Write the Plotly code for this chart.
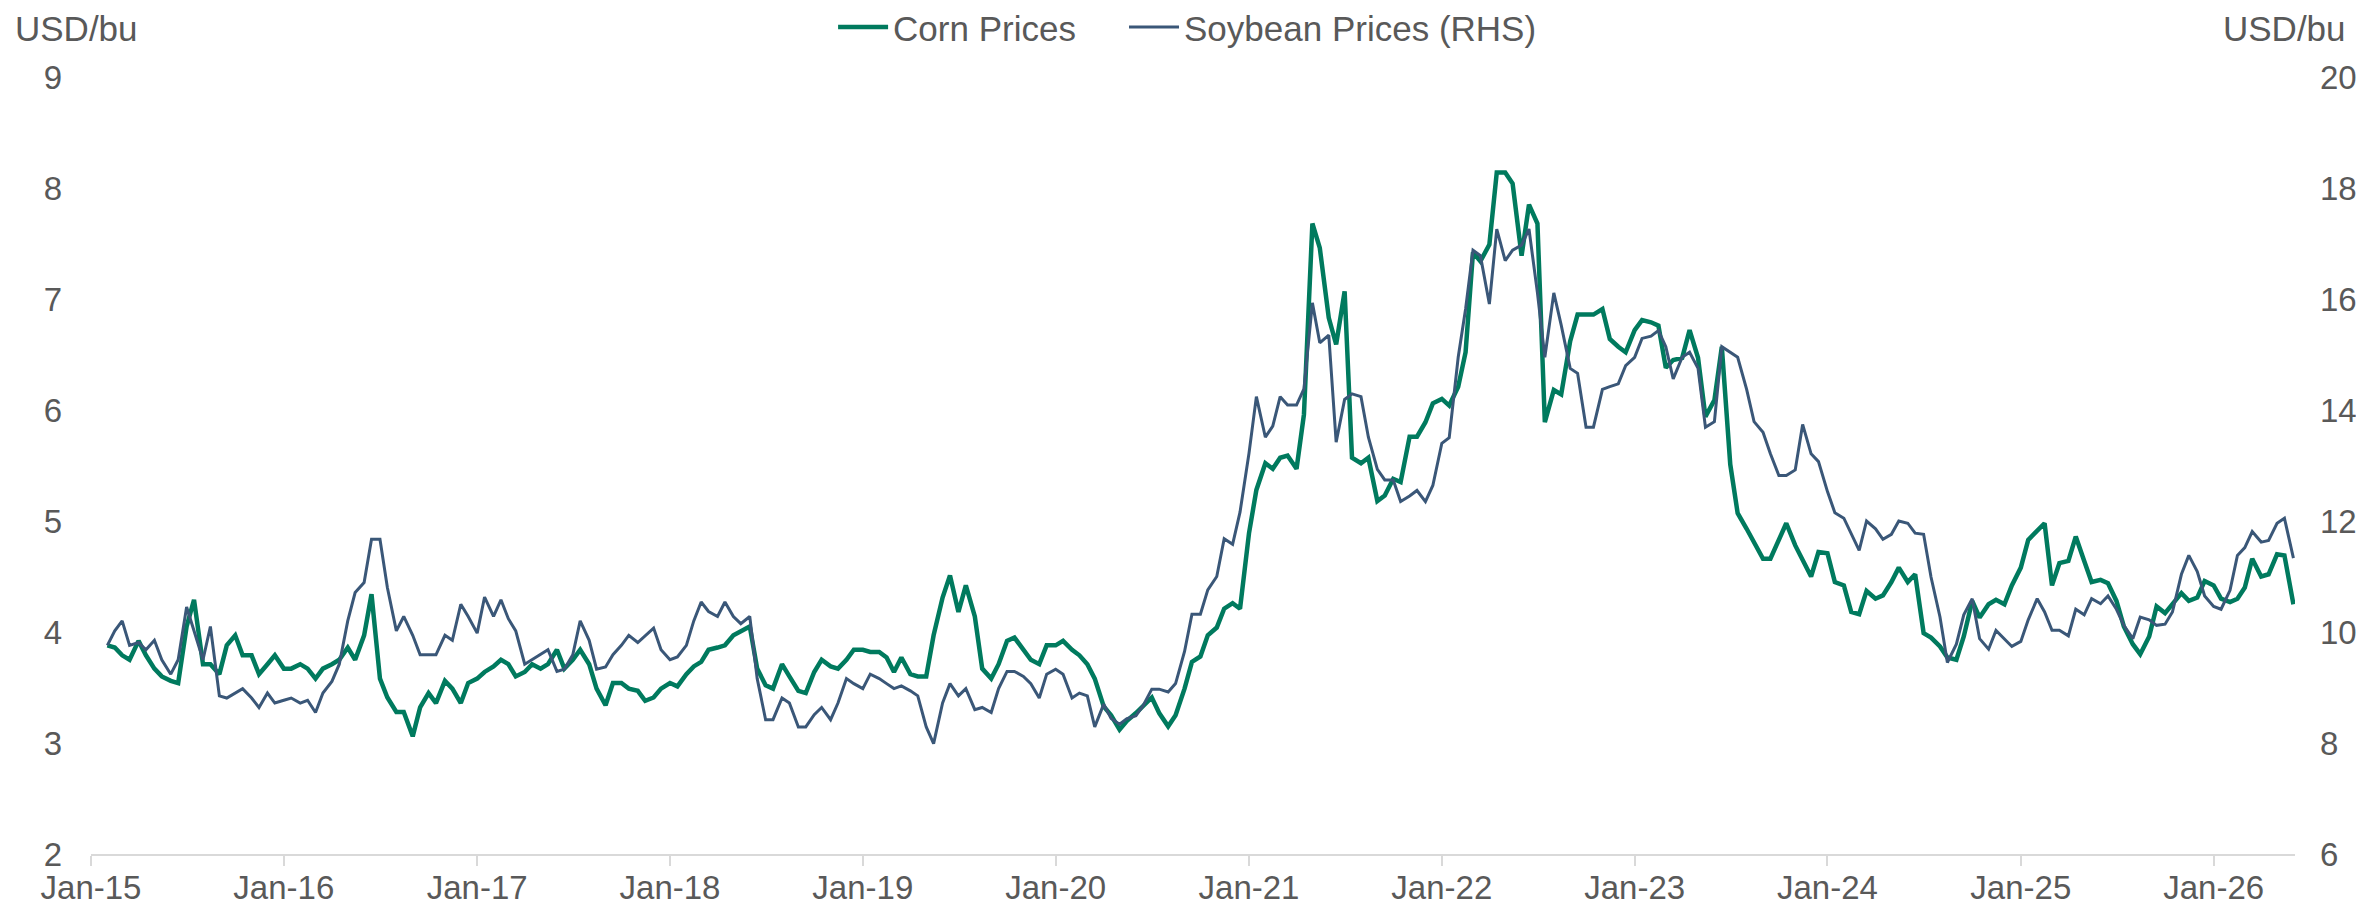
import datetime as dt
import plotly.graph_objects as go

# ---------------- data (semi-monthly readings: 1st and 15th of each month) ----------------
corn_2015 = [3.88, 3.86, 3.79, 3.75, 3.92, 3.79, 3.67, 3.60, 3.56, 3.54, 4.05, 4.29, 3.71, 3.71, 3.62, 3.88, 3.97, 3.79, 3.79, 3.62, 3.71, 3.79]
corn_2016 = [3.67, 3.67, 3.71, 3.67, 3.58, 3.67, 3.71, 3.75, 3.86, 3.75, 3.97, 4.34, 3.58, 3.41, 3.28, 3.28, 3.06, 3.32, 3.45, 3.36, 3.56, 3.49, 3.36, 3.54]
corn_2017 = [3.58, 3.64, 3.69, 3.75, 3.71, 3.60, 3.64, 3.71, 3.67, 3.71, 3.84, 3.67, 3.75, 3.84, 3.71, 3.49, 3.34, 3.54, 3.54, 3.49, 3.47, 3.38, 3.41, 3.49]
corn_2018 = [3.54, 3.51, 3.62, 3.69, 3.73, 3.84, 3.86, 3.88, 3.97, 4.01, 4.05, 3.67, 3.52, 3.49, 3.71, 3.60, 3.47, 3.45, 3.64, 3.75, 3.69, 3.67, 3.75, 3.84]
corn_2019 = [3.84, 3.82, 3.82, 3.77, 3.64, 3.77, 3.62, 3.60, 3.60, 3.97, 4.31, 4.51, 4.18, 4.42, 4.14, 3.67, 3.58, 3.71, 3.92, 3.95, 3.84, 3.75, 3.71, 3.88]
corn_2020 = [3.88, 3.92, 3.84, 3.79, 3.71, 3.58, 3.33, 3.25, 3.12, 3.20, 3.27, 3.34, 3.41, 3.27, 3.15, 3.25, 3.49, 3.73, 3.78, 3.97, 4.04, 4.21, 4.26, 4.21]
corn_2021 = [4.89, 5.28, 5.52, 5.47, 5.57, 5.59, 5.47, 5.96, 7.68, 7.46, 6.83, 6.59, 7.07, 5.57, 5.52, 5.57, 5.18, 5.23, 5.38, 5.35, 5.76, 5.76, 5.89, 6.06]
corn_2022 = [6.10, 6.04, 6.21, 6.52, 7.42, 7.34, 7.49, 8.14, 8.14, 8.04, 7.39, 7.85, 7.68, 5.89, 6.18, 6.14, 6.62, 6.86, 6.86, 6.86, 6.91, 6.64, 6.57, 6.52]
corn_2023 = [6.72, 6.81, 6.79, 6.76, 6.38, 6.45, 6.47, 6.72, 6.47, 5.94, 6.09, 6.57, 5.51, 5.07, 4.93, 4.81, 4.66, 4.66, 4.83, 4.98, 4.78, 4.64, 4.50, 4.72]
corn_2024 = [4.71, 4.45, 4.42, 4.18, 4.16, 4.37, 4.30, 4.33, 4.45, 4.58, 4.45, 4.52, 3.99, 3.95, 3.87, 3.77, 3.75, 3.96, 4.28, 4.13, 4.25, 4.29, 4.25, 4.42]
corn_2025 = [4.58, 4.83, 4.91, 4.98, 4.42, 4.62, 4.64, 4.86, 4.64, 4.45, 4.47, 4.44, 4.28, 4.05, 3.89, 3.80, 3.96, 4.23, 4.17, 4.25, 4.35, 4.28, 4.31, 4.46]
corn_2026 = [4.42, 4.30, 4.27, 4.30, 4.40, 4.66, 4.50, 4.52, 4.70, 4.69, 4.25]

soy_2015 = [9.76, 10.02, 10.20, 9.76, 9.81, 9.68, 9.85, 9.50, 9.24, 9.50, 10.45, 10.02, 9.50, 10.10, 8.85, 8.81, 8.90, 8.98, 8.81, 8.64, 8.90, 8.72]
soy_2016 = [8.77, 8.81, 8.72, 8.77, 8.55, 8.90, 9.11, 9.42, 10.20, 10.71, 10.89, 11.67, 11.67, 10.80, 10.02, 10.28, 9.94, 9.59, 9.59, 9.59, 9.94, 9.85, 10.50, 10.28]
soy_2017 = [9.98, 10.63, 10.28, 10.58, 10.24, 10.02, 9.42, 9.50, 9.59, 9.68, 9.29, 9.33, 9.59, 10.20, 9.85, 9.33, 9.37, 9.59, 9.76, 9.94, 9.81, 9.94, 10.07, 9.68]
soy_2018 = [9.50, 9.55, 9.76, 10.20, 10.54, 10.37, 10.28, 10.54, 10.28, 10.15, 10.28, 9.16, 8.42, 8.42, 8.81, 8.72, 8.29, 8.29, 8.51, 8.64, 8.42, 8.72, 9.16, 9.07]
soy_2019 = [8.98, 9.24, 9.16, 9.07, 8.98, 9.03, 8.94, 8.85, 8.29, 7.99, 8.72, 9.07, 8.85, 8.98, 8.60, 8.64, 8.55, 8.98, 9.29, 9.29, 9.20, 9.07, 8.81, 9.24]
soy_2020 = [9.33, 9.24, 8.81, 8.90, 8.85, 8.29, 8.70, 8.44, 8.34, 8.44, 8.49, 8.68, 8.97, 8.97, 8.92, 9.07, 9.65, 10.32, 10.32, 10.76, 11.00, 11.68, 11.58, 12.16]
soy_2021 = [13.22, 14.24, 13.51, 13.71, 14.24, 14.09, 14.09, 14.38, 15.93, 15.21, 15.35, 13.42, 14.19, 14.29, 14.24, 13.51, 12.93, 12.74, 12.74, 12.35, 12.45, 12.55, 12.35, 12.64]
soy_2022 = [13.40, 13.50, 14.95, 15.82, 16.88, 16.78, 15.91, 17.26, 16.69, 16.88, 16.97, 17.26, 16.11, 14.95, 16.11, 15.53, 14.75, 14.66, 13.69, 13.69, 14.37, 14.42, 14.47, 14.80]
soy_2023 = [14.95, 15.29, 15.33, 15.43, 15.14, 14.56, 14.95, 15.04, 14.75, 13.69, 13.79, 15.14, 15.04, 14.95, 14.37, 13.79, 13.60, 13.21, 12.82, 12.82, 12.92, 13.74, 13.21, 13.07]
soy_2024 = [12.53, 12.15, 12.05, 11.76, 11.47, 12.00, 11.86, 11.67, 11.76, 12.00, 11.96, 11.78, 11.76, 10.99, 10.27, 9.45, 9.78, 10.31, 10.60, 9.88, 9.69, 10.03, 9.88, 9.74]
soy_2025 = [9.83, 10.22, 10.60, 10.36, 10.03, 10.03, 9.93, 10.41, 10.31, 10.60, 10.51, 10.65, 10.41, 10.12, 9.88, 10.27, 10.22, 10.12, 10.14, 10.36, 11.04, 11.38, 11.09, 10.65]
soy_2026 = [10.46, 10.41, 10.75, 11.38, 11.52, 11.81, 11.62, 11.65, 11.96, 12.05, 11.33]

corn_prices = (corn_2015 + corn_2016 + corn_2017 + corn_2018 + corn_2019 + corn_2020 +
               corn_2021 + corn_2022 + corn_2023 + corn_2024 + corn_2025 + corn_2026)
soy_prices = (soy_2015 + soy_2016 + soy_2017 + soy_2018 + soy_2019 + soy_2020 +
              soy_2021 + soy_2022 + soy_2023 + soy_2024 + soy_2025 + soy_2026)

first_date = dt.date(2015, 2, 1)
last_date = dt.date(2026, 6, 1)
dates = []
for y in range(2015, 2027):
    for m in range(1, 13):
        for d in (1, 15):
            day = dt.date(y, m, d)
            if first_date <= day <= last_date:
                dates.append(day)
assert len(dates) == len(corn_prices) == len(soy_prices)

series_names = ["Corn Prices", "Soybean Prices (RHS)"]
axis_unit = "USD/bu"
left_range = [2, 9]
right_range = [6, 20]
x_range = ["2015-01-01", "2026-06-04"]

# ---------------- styling ----------------
CORN = "#007A5E"
SOY = "#3A5778"
TXT = "#595959"
FONT = "Arial, Liberation Sans, sans-serif"
FS = 33
FS_BIG = 35

fig = go.Figure()
fig.add_trace(go.Scatter(x=dates, y=corn_prices, name=series_names[0], mode="lines",
                         line=dict(color=CORN, width=4.5), yaxis="y", legend="legend"))
fig.add_trace(go.Scatter(x=dates, y=soy_prices, name=series_names[1], mode="lines",
                         line=dict(color=SOY, width=3), yaxis="y2", legend="legend2"))

legend_common = dict(orientation="h", xanchor="left", y=1.064, yanchor="middle",
                     font=dict(size=FS_BIG, color=TXT), bgcolor="rgba(0,0,0,0)",
                     itemwidth=50)

fig.update_layout(
    width=2364, height=905,
    margin=dict(l=83, r=77, t=69, b=59, autoexpand=False),
    paper_bgcolor="white", plot_bgcolor="white",
    font=dict(family=FONT, size=FS, color=TXT),
    showlegend=True,
    legend=dict(x=0.3367, **legend_common),
    legend2=dict(x=0.4687, **legend_common),
    xaxis=dict(type="date", range=x_range, tick0="2015-01-01", dtick="M12",
               tickformat="%b-%y", showgrid=False, zeroline=False,
               showline=True, linecolor="#D9D9D9", linewidth=2,
               ticks="outside", ticklen=10, tickwidth=2, tickcolor="#D9D9D9",
               tickfont=dict(size=FS, color=TXT), ticklabelstandoff=-7),
    yaxis=dict(range=left_range, dtick=1, showgrid=False, zeroline=False,
               showline=False, ticks="", tickfont=dict(size=FS, color=TXT),
               ticklabelstandoff=28),
    yaxis2=dict(range=right_range, dtick=2, overlaying="y", side="right",
                showgrid=False, zeroline=False, showline=False, ticks="",
                tickfont=dict(size=FS, color=TXT), ticklabelstandoff=24),
    annotations=[
        dict(text=axis_unit, xref="paper", yref="paper", x=-0.0355, y=1.062,
             xanchor="left", yanchor="middle", showarrow=False,
             font=dict(size=FS_BIG, color=TXT)),
        dict(text=axis_unit, xref="paper", yref="paper", x=1.024, y=1.062,
             xanchor="right", yanchor="middle", showarrow=False,
             font=dict(size=FS_BIG, color=TXT)),
    ],
)

fig.write_html("out.html")
